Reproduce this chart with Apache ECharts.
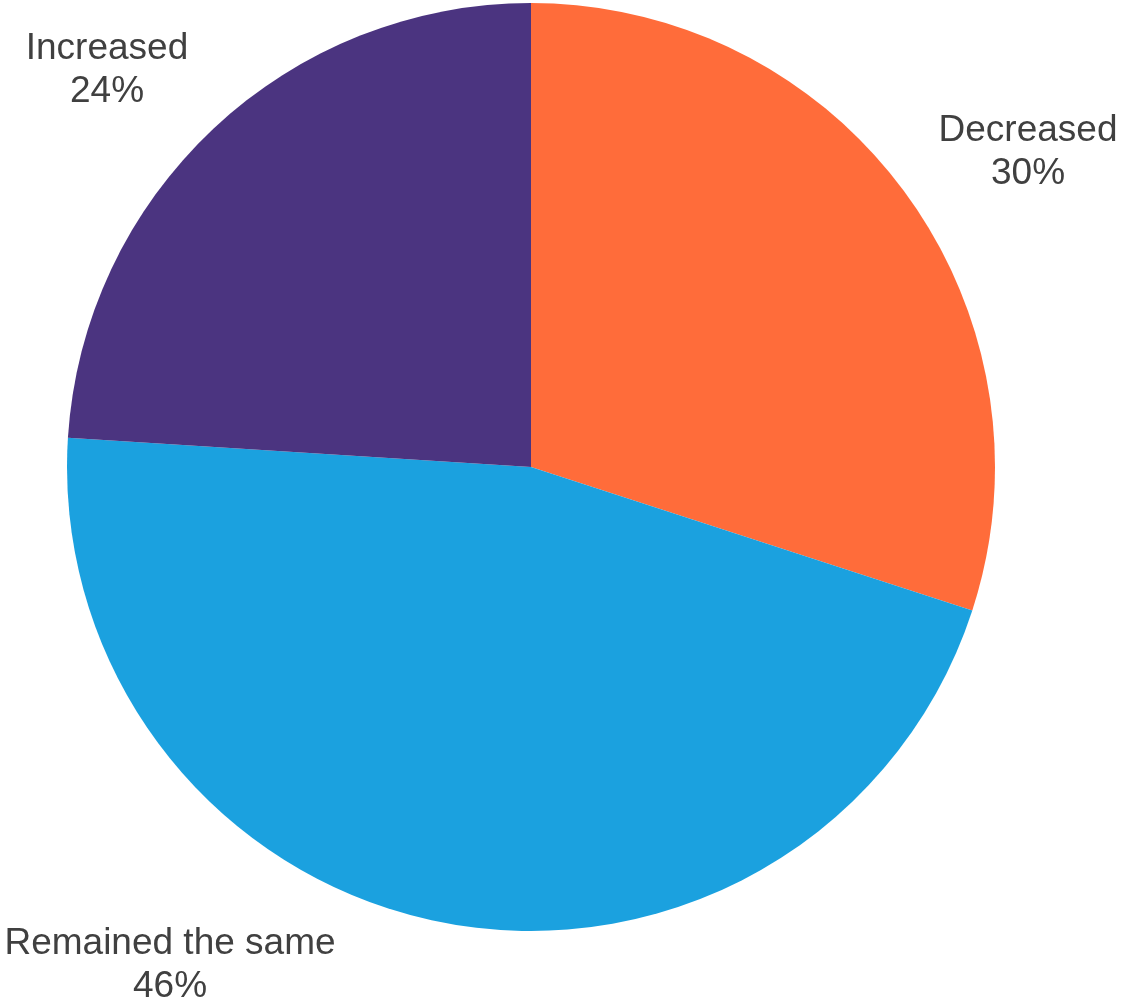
<!DOCTYPE html>
<html>
<head>
<meta charset="utf-8">
<script src="https://cdn.jsdelivr.net/npm/echarts@6/dist/echarts.min.js"></script>
<style>
html,body{margin:0;padding:0;background:#fff;}
#chart{width:1122px;height:1004px;}
</style>
</head>
<body>
<div id="chart"></div>
<script>
const categories = ['Decreased', 'Remained the same', 'Increased'];
const values = [30, 46, 24];
const colors = ['#FF6C3A', '#1BA1DF', '#4B3480'];

const labelPos = [
  { x: 1028, y: 152 },
  { x: 170, y: 965 },
  { x: 107, y: 70 }
];

const chart = echarts.init(document.getElementById('chart'), null, { renderer: 'canvas' });
chart.setOption({
  backgroundColor: '#ffffff',
  animation: false,
  series: [{
    type: 'pie',
    center: [531, 467],
    radius: 464,
    startAngle: 90,
    clockwise: true,
    avoidLabelOverlap: false,
    data: categories.map((c, i) => ({ name: c, value: values[i], itemStyle: { color: colors[i] } })),
    label: {
      show: true,
      position: 'outside',
      alignTo: 'none',
      overflow: 'none',
      formatter: p => p.name + '\n' + p.value + '%',
      fontFamily: 'Liberation Sans, Arial, sans-serif',
      fontSize: 37,
      lineHeight: 43,
      color: '#404040',
      align: 'center'
    },
    labelLine: { show: false },
    labelLayout: function (params) {
      const p = labelPos[params.dataIndex];
      return { x: p.x, y: p.y, align: 'center', verticalAlign: 'middle' };
    },
    itemStyle: { borderWidth: 0 },
    emphasis: { disabled: true }
  }]
});
</script>
</body>
</html>
